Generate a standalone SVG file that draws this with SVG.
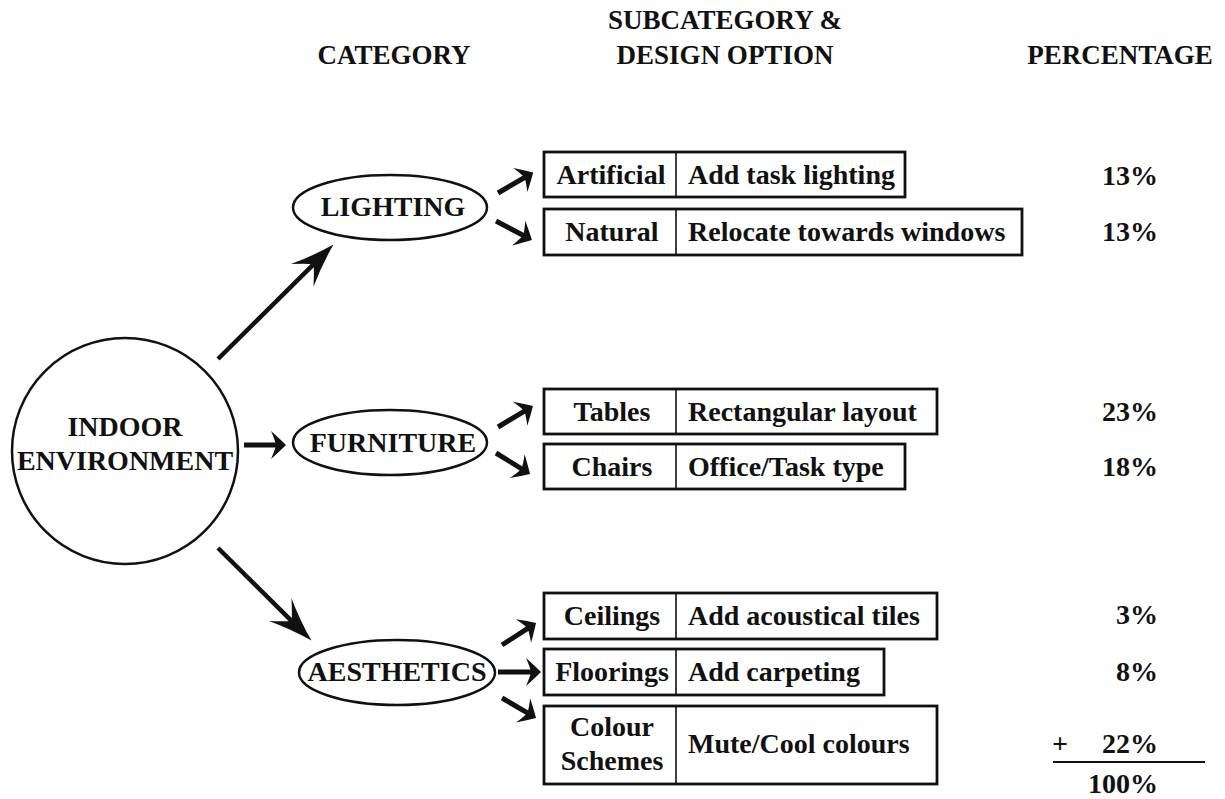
<svg xmlns="http://www.w3.org/2000/svg" width="1225" height="799" viewBox="0 0 1225 799" font-family="'Liberation Serif', 'DejaVu Serif', serif">
<style>
text{font-family:'Liberation Serif','DejaVu Serif',serif;font-weight:700;fill:#111;font-size:28px}
.hd{font-size:27px;text-anchor:middle}
.node{fill:#fff;stroke:#111;stroke-width:2.5}
.box{fill:#fff;stroke:#111;stroke-width:2.8}
.div{stroke:#111;stroke-width:1.6}
.c{text-anchor:middle}
.r{text-anchor:end}
.big{stroke:#111;stroke-width:4.5;fill:none;marker-end:url(#bigHead)}
.sm{stroke:#111;stroke-width:5;fill:none;marker-end:url(#smHead)}
</style>
<defs>
<marker id="bigHead" viewBox="-48 -20 52 40" refX="-26" refY="0" markerWidth="52" markerHeight="40" markerUnits="userSpaceOnUse" orient="auto">
<path d="M0,0 Q-22,-6 -44,-16 Q-33,-6 -28,0 Q-33,6 -44,16 Q-22,6 0,0 Z" fill="#111"/>
</marker>
<marker id="smHead" viewBox="-18 -16 20 32" refX="-8" refY="0" markerWidth="20" markerHeight="32" markerUnits="userSpaceOnUse" orient="auto">
<path d="M0,0 Q-6,-6 -15,-14 Q-11,-5 -10,0 Q-11,5 -15,14 Q-6,6 0,0 Z" fill="#111"/>
</marker>
</defs>
<rect width="1225" height="799" fill="#fff"/>
<g id="headers">
<text class="hd" x="394" y="64">CATEGORY</text>
<text class="hd" x="725" y="29">SUBCATEGORY &amp;</text>
<text class="hd" x="725" y="64">DESIGN OPTION</text>
<text class="hd" x="1120" y="64">PERCENTAGE</text>
</g>
<g id="connectors">
<line class="big" x1="218" y1="359" x2="315" y2="262.8"/>
<line class="sm" x1="244" y1="445" x2="278" y2="445"/>
<line class="big" x1="218" y1="548" x2="293" y2="622.3"/>
<line class="sm" x1="498" y1="193" x2="526.3" y2="176.5"/>
<line class="sm" x1="496" y1="221" x2="524.9" y2="236.3"/>
<line class="sm" x1="498" y1="427" x2="526.1" y2="410.1"/>
<line class="sm" x1="496" y1="453" x2="523.2" y2="469.8"/>
<line class="sm" x1="502" y1="645" x2="529.3" y2="627.3"/>
<line class="sm" x1="498" y1="672" x2="533" y2="672"/>
<line class="sm" x1="502" y1="698" x2="529.1" y2="713.9"/>
</g>
<g id="indoor-environment">
<circle class="node" cx="125" cy="451" r="113"/>
<text class="c" x="125" y="436">INDOOR</text>
<text class="c" x="125" y="470" font-size="27">ENVIRONMENT</text>
</g>
<g id="lighting">
<ellipse class="node" cx="390" cy="207.5" rx="97" ry="32.5"/>
<text class="c" x="393" y="216">LIGHTING</text>
</g>
<g id="furniture">
<ellipse class="node" cx="390" cy="442.5" rx="97" ry="32.5"/>
<text class="c" x="393" y="452">FURNITURE</text>
</g>
<g id="aesthetics">
<ellipse class="node" cx="397" cy="672.5" rx="98" ry="32.5"/>
<text class="c" x="397" y="681">AESTHETICS</text>
</g>
<g id="artificial">
<rect class="box" x="544" y="152" width="361" height="45"/>
<line class="div" x1="676" y1="152" x2="676" y2="197"/>
<text class="c" x="611" y="184">Artificial</text>
<text x="688" y="184">Add task lighting</text>
</g>
<g id="natural">
<rect class="box" x="544" y="209" width="478" height="46"/>
<line class="div" x1="676" y1="209" x2="676" y2="255"/>
<text class="c" x="612" y="241">Natural</text>
<text x="688" y="241">Relocate towards windows</text>
</g>
<g id="tables">
<rect class="box" x="544" y="389" width="393" height="45"/>
<line class="div" x1="676" y1="389" x2="676" y2="434"/>
<text class="c" x="612" y="421">Tables</text>
<text x="688" y="421">Rectangular layout</text>
</g>
<g id="chairs">
<rect class="box" x="544" y="444" width="361" height="45"/>
<line class="div" x1="676" y1="444" x2="676" y2="489"/>
<text class="c" x="612" y="476">Chairs</text>
<text x="688" y="476">Office/Task type</text>
</g>
<g id="ceilings">
<rect class="box" x="544" y="593" width="393" height="46"/>
<line class="div" x1="676" y1="593" x2="676" y2="639"/>
<text class="c" x="612" y="625">Ceilings</text>
<text x="688" y="625">Add acoustical tiles</text>
</g>
<g id="floorings">
<rect class="box" x="544" y="649" width="340" height="46"/>
<line class="div" x1="676" y1="649" x2="676" y2="695"/>
<text class="c" x="612" y="681">Floorings</text>
<text x="688" y="681">Add carpeting</text>
</g>
<g id="colour-schemes">
<rect class="box" x="544" y="706" width="393" height="78"/>
<line class="div" x1="676" y1="706" x2="676" y2="784"/>
<text class="c" x="612" y="736">Colour</text>
<text class="c" x="612" y="770">Schemes</text>
<text x="688" y="753">Mute/Cool colours</text>
</g>
<g id="percentages">
<text class="r" x="1158" y="185">13%</text>
<text class="r" x="1158" y="241">13%</text>
<text class="r" x="1158" y="421">23%</text>
<text class="r" x="1158" y="476">18%</text>
<text class="r" x="1158" y="624">3%</text>
<text class="r" x="1158" y="681">8%</text>
<text x="1052" y="753" font-weight="normal">+</text>
<text class="r" x="1158" y="753">22%</text>
<line x1="1053" y1="762" x2="1205" y2="762" stroke="#111" stroke-width="2"/>
<text class="r" x="1158" y="793">100%</text>
</g>
</svg>
